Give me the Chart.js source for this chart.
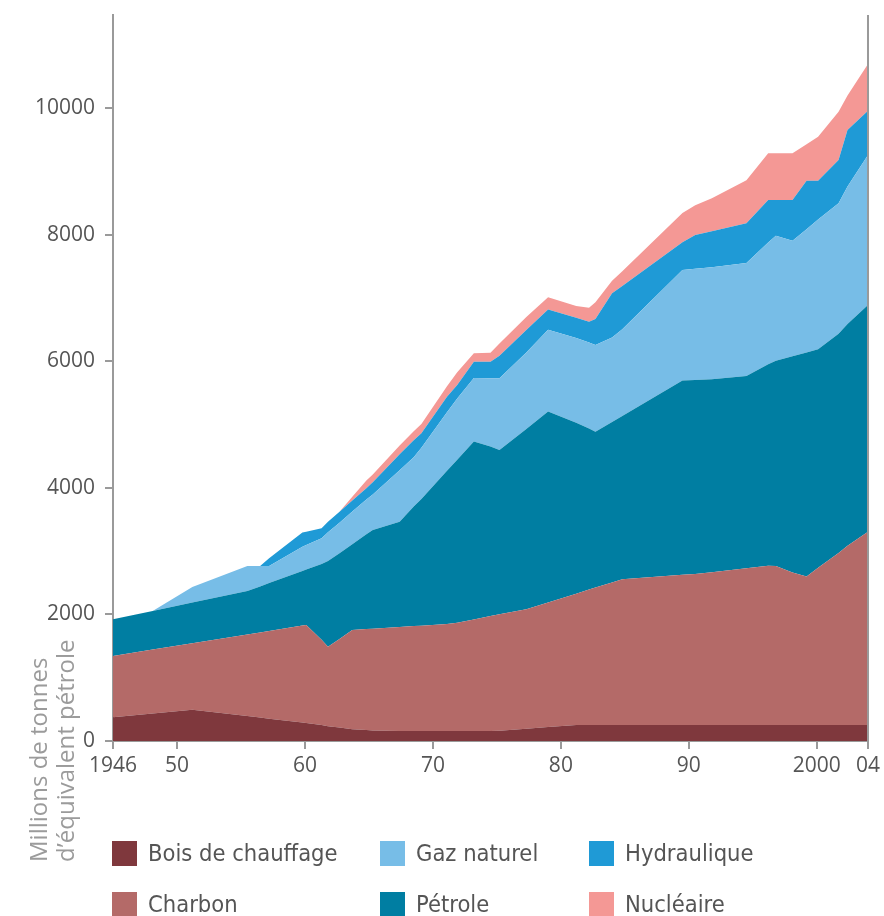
<!DOCTYPE html>
<html>
<head>
<meta charset="utf-8">
<script src="https://cdn.jsdelivr.net/npm/chart.js@4/dist/chart.umd.min.js"></script>
<style>
    html, body { margin: 0; padding: 0; background: #fff; }
    #wrap { position: relative; width: 884px; height: 916px; overflow: hidden; }
    #legend { position: absolute; left: 0; top: 0; width: 884px; height: 916px; }
    .item { position: absolute; display: flex; align-items: center; white-space: nowrap;
            font-family: "Liberation Sans Narrow", "DejaVu Sans Condensed", "Open Sans", sans-serif;
            font-size: 23.5px; color: #555; }
    .sw { width: 25px; height: 25px; margin-right: 11px; }
</style>
</head>
<body>
<div id="wrap">
    <canvas id="energy" width="884" height="916"></canvas>
    <div id="legend"></div>
</div>
<script>
// years of the kinks (axis origin sits one year before the "1946" label position)
const years = [1945.0, 1948.1, 1951.2, 1955.5, 1956.5, 1957.2, 1959.8, 1960.1, 1961.3, 1961.8,
    1962.7, 1963.7, 1964.8, 1965.3, 1967.4, 1968.5, 1969.1, 1971.1, 1971.9, 1973.2,
    1974.5, 1975.2, 1977.3, 1979.0, 1981.2, 1982.2, 1982.7, 1984.0, 1984.8, 1989.5,
    1990.5, 1991.8, 1994.5, 1996.2, 1996.8, 1998.1, 1999.2, 2000.1, 2001.7, 2002.4, 2004.0];

// millions de tonnes d'équivalent pétrole
const bois = [374, 435, 495, 393, 371, 352, 292, 284, 251, 235,
    212, 186, 174, 167, 158, 158, 158, 158, 158, 158,
    158, 163, 194, 220, 253, 253, 253, 253, 253, 253,
    253, 253, 253, 253, 253, 253, 253, 253, 253, 253, 253];
const charbon = [969, 1010, 1051, 1291, 1343, 1387, 1531, 1548, 1348, 1255,
    1400, 1567, 1594, 1607, 1643, 1657, 1664, 1691, 1711, 1763,
    1815, 1838, 1887, 1970, 2075, 2139, 2174, 2253, 2302, 2372,
    2386, 2414, 2476, 2514, 2511, 2411, 2345, 2484, 2716, 2831, 3054];
const petrole = [580, 610, 641, 686, 725, 758, 864, 878, 1199, 1354,
    1356, 1357, 1499, 1559, 1664, 1890, 2003, 2422, 2574, 2812,
    2680, 2598, 2847, 3016, 2700, 2544, 2460, 2533, 2579, 3070,
    3065, 3049, 3037, 3184, 3245, 3416, 3541, 3452, 3465, 3506, 3582];
const gaz = [0, 0, 245, 395, 325, 267, 382, 387, 404, 453,
    480, 514, 547, 562, 812, 777, 809, 924, 969, 1002,
    1079, 1133, 1210, 1292, 1340, 1360, 1370, 1337, 1373, 1747,
    1757, 1770, 1785, 1926, 1972, 1822, 1945, 2049, 2062, 2169, 2370];
const hydro = [0, 0, 0, 0, 0, 125, 224, 210, 158, 166,
    175, 177, 179, 191, 253, 269, 228, 245, 213, 258,
    261, 356, 354, 318, 318, 329, 411, 698, 681, 436,
    532, 566, 629, 672, 567, 646, 769, 615, 684, 894, 700];
const nucleaire = [0, 0, 0, 0, 0, 0, 0, 0, 0, 0,
    0, 58, 123, 126, 137, 144, 147, 164, 202, 134,
    142, 194, 205, 194, 185, 218, 264, 199, 235, 463,
    471, 523, 679, 738, 738, 738, 574, 694, 760, 547, 738];

const xTicks = [1945, 1950, 1960, 1970, 1980, 1990, 2000, 2004];
const xLabels = ['1946', '50', '60', '70', '80', '90', '2000', '04'];
const yTicks = [0, 2000, 4000, 6000, 8000, 10000];

const series = [
    { label: 'Bois de chauffage', data: bois, color: '#7f383d' },
    { label: 'Charbon', data: charbon, color: '#b46a68' },
    { label: 'Pétrole', data: petrole, color: '#007ea2' },
    { label: 'Gaz naturel', data: gaz, color: '#77bde7' },
    { label: 'Hydraulique', data: hydro, color: '#1f9ad6' },
    { label: 'Nucléaire', data: nucleaire, color: '#f49895' }
];

const axisGray = '#9a9a9a';
const tickFont = { family: 'Open Sans', size: 21 };

const yTitle = {
    id: 'yTitle',
    afterDraw(chart) {
        const ctx = chart.ctx;
        ctx.save();
        ctx.translate(40, 862);
        ctx.rotate(-Math.PI / 2);
        ctx.fillStyle = '#9b9b9b';
        ctx.font = '24px "Open Sans"';
        ctx.textAlign = 'left';
        ctx.textBaseline = 'middle';
        ctx.fillText('Millions de tonnes', 0, 0);
        ctx.fillText('d\u2019équivalent pétrole', 0, 27);
        ctx.restore();
        // right frame line
        const a = chart.chartArea;
        ctx.save();
        ctx.strokeStyle = axisGray;
        ctx.lineWidth = 2;
        ctx.beginPath();
        ctx.moveTo(a.right, a.top);
        ctx.lineTo(a.right, a.bottom);
        ctx.stroke();
        ctx.restore();
    }
};

const chart = new Chart(document.getElementById('energy'), {
    type: 'line',
    data: {
        datasets: series.map((s, i) => ({
            label: s.label,
            data: s.data.map((v, j) => ({ x: years[j], y: v })),
            backgroundColor: s.color,
            borderColor: s.color,
            borderWidth: 0,
            pointRadius: 0,
            tension: 0,
            fill: i === 0 ? 'origin' : '-1'
        }))
    },
    options: {
        responsive: false,
        animation: false,
        layout: { padding: { top: 15, right: 15, left: 0, bottom: 135 } },
        plugins: { legend: { display: false }, tooltip: { enabled: false } },
        scales: {
            x: {
                type: 'linear',
                min: 1945,
                max: 2004,
                afterBuildTicks: (scale) => { scale.ticks = xTicks.map(v => ({ value: v })); },
                afterFit: (scale) => { scale.height = 40; },
                ticks: {
                    autoSkip: false,
                    maxRotation: 0,
                    padding: 4,
                    color: '#555',
                    font: tickFont,
                    callback: (v) => xLabels[xTicks.indexOf(v)]
                },
                grid: { drawOnChartArea: false, tickLength: 8, color: axisGray, lineWidth: 2 },
                border: { color: axisGray, width: 2 }
            },
            y: {
                stacked: true,
                min: 0,
                max: 11470,
                afterBuildTicks: (scale) => { scale.ticks = yTicks.map(v => ({ value: v })); },
                afterFit: (scale) => {
                    scale.width = 113;
                    scale.paddingTop = 0;
                    scale.paddingBottom = 0;
                },
                ticks: { padding: 10, color: '#555', font: tickFont, callback: (v) => String(v) },
                grid: { drawOnChartArea: false, tickLength: 8, color: axisGray, lineWidth: 2 },
                border: { color: axisGray, width: 2 }
            }
        }
    },
    plugins: [yTitle]
});

// legend: two rows of three, as in the source
const legendOrder = [0, 3, 4, 1, 2, 5];
const colX = [112, 380, 589];
const rowY = [839, 890];
const legend = document.getElementById('legend');
legendOrder.forEach((di, k) => {
    const ds = chart.data.datasets[di];
    const item = document.createElement('div');
    item.className = 'item';
    item.style.left = colX[k % 3] + 'px';
    item.style.top = rowY[Math.floor(k / 3)] + 'px';
    item.innerHTML = '<span class="sw" style="background:' + ds.backgroundColor + '"></span>' + ds.label;
    legend.appendChild(item);
});
</script>
</body>
</html>
